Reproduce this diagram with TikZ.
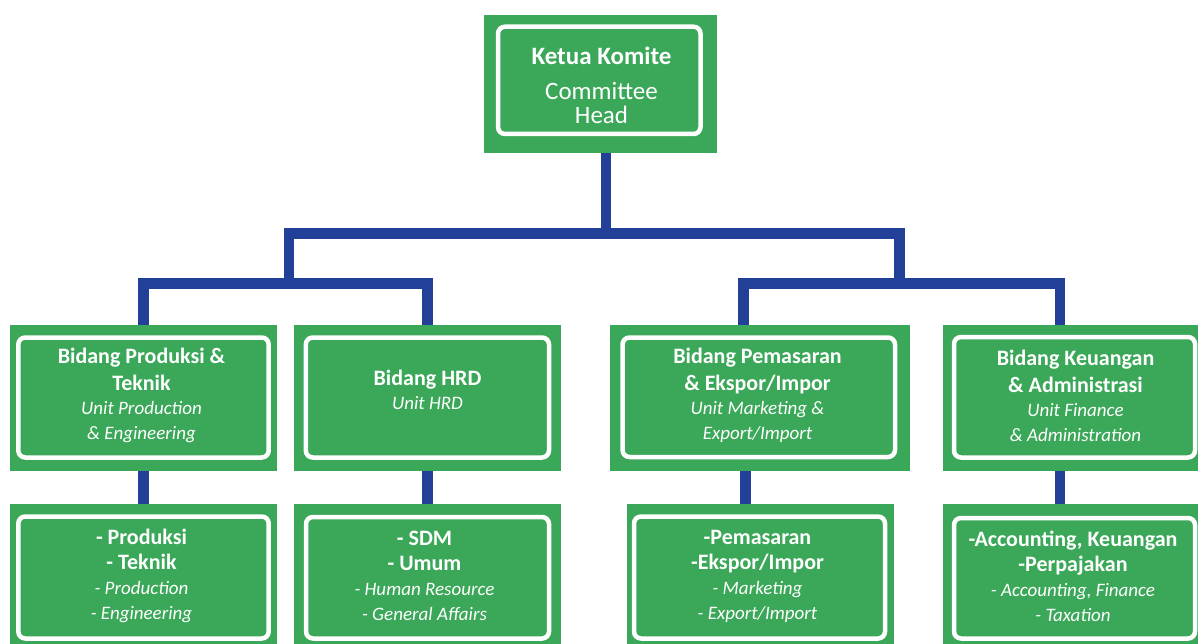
\documentclass[tikz,border=0pt]{standalone}
\usepackage{fontspec}
\setmainfont{Carlito}
\usepackage{tikz}
\definecolor{kgreen}{RGB}{58,168,88}
\definecolor{kblue}{RGB}{34,64,152}
\newcommand{\en}[1]{{\fontsize{19}{25}\selectfont\itshape #1}}

\tikzset{
  unitbox/.style={fill=kgreen, draw=none, inner sep=0pt, outer sep=0pt},
  frame/.style n args={4}{path picture={\draw[white,line width=4.5pt,rounded corners=7pt]
      ([xshift=#1pt,yshift=-#2pt]path picture bounding box.north west) rectangle
      ([xshift=-#3pt,yshift=#4pt]path picture bounding box.south east);}},
  link/.style={kblue, line width=10.4pt},
  headtxt/.style={white, align=center, font=\fontsize{25}{24}\selectfont},
  unittxt/.style={white, align=center, font=\fontsize{22}{27}\selectfont},
}

\begin{document}
\begin{tikzpicture}[x=1pt,y=-1pt]
\useasboundingbox (0,0) rectangle (1198,644);
% boxes
\node[unitbox, frame={14}{11.7}{16.5}{19}, minimum width=233pt, minimum height=138pt] (head) at (600.5,84) {};
\node[unitbox, frame={8.3}{12.5}{8.3}{13}, minimum width=267pt, minimum height=145.5pt] (prod) at (143.5,397.75) {};
\node[unitbox, frame={11.8}{12.5}{12}{13}, minimum width=267pt, minimum height=145.5pt] (hrd) at (427.5,397.75) {};
\node[unitbox, frame={12.5}{12.5}{15}{13.5}, minimum width=300pt, minimum height=145.5pt] (mark) at (760,397.75) {};
\node[unitbox, frame={11}{12}{8}{13}, minimum width=260pt, minimum height=145.5pt] (fin) at (1073,397.75) {};
\node[unitbox, frame={8.3}{12.5}{8.3}{12.5}, minimum width=267pt, minimum height=147pt] (prodsub) at (143.5,577.5) {};
\node[unitbox, frame={12}{13}{12}{12.5}, minimum width=267pt, minimum height=147pt] (hrdsub) at (427.5,577.5) {};
\node[unitbox, frame={7}{12.5}{9}{12.5}, minimum width=267pt, minimum height=147pt] (marksub) at (760.5,577.5) {};
\node[unitbox, frame={11}{14}{8}{12.5}, minimum width=260pt, minimum height=147pt] (finsub) at (1073,577.5) {};

% texts
\node[headtxt] (headlbl) at (601.5,85) {\textbf{Ketua Komite}\\[11pt] Committee\\ Head};
\node[unittxt] (prodlbl) at (141.5,395.5) {\textbf{Bidang Produksi \&}\\ \textbf{Teknik}\\[-3pt] \en{Unit Production}\\[-2pt] \en{\& Engineering}};
\node[unittxt] (hrdlbl) at (427.5,390) {\textbf{Bidang HRD}\\[-3pt] \en{Unit HRD}};
\node[unittxt] (marklbl) at (757.5,395.5) {\textbf{Bidang Pemasaran}\\ \textbf{\& Ekspor/Impor}\\[-3pt] \en{Unit Marketing \&}\\[-2pt] \en{Export/Import}};
\node[unittxt] (finlbl) at (1075.5,395.5) {\textbf{Bidang Keuangan}\\ \textbf{\& Administrasi}\\[-3pt] \en{Unit Finance}\\[-2pt] \en{\& Administration}};
\node[unittxt] (prodsublbl) at (141.5,576) {\textbf{- Produksi}\\[-2pt] \textbf{- Teknik}\\[-2pt] \en{- Production}\\[-2pt] \en{- Engineering}};
\node[unittxt] (hrdsublbl) at (424.5,576) {\textbf{- SDM}\\[-2pt] \textbf{- Umum}\\[-2pt] \en{- Human Resource}\\[-2pt] \en{- General Affairs}};
\node[unittxt] (marksublbl) at (757.5,576) {\textbf{-Pemasaran}\\[-2pt] \textbf{-Ekspor/Impor}\\[-2pt] \en{- Marketing}\\[-2pt] \en{- Export/Import}};
\node[unittxt] (finsublbl) at (1073,576) {\textbf{-Accounting, Keuangan}\\[-2pt] \textbf{-Perpajakan}\\[-2pt] \en{- Accounting, Finance}\\[-2pt] \en{- Taxation}};

% connectors
\coordinate (hub) at (606,233.5);
\coordinate (lhub) at (288.7,283.3);
\coordinate (rhub) at (899.3,283.3);
\coordinate (mkx) at (743.5,0);
\coordinate (mky) at (745.3,0);
\coordinate (fnx) at (1060.2,0);
\draw[link] (head.south -| hub) -- (hub);
\draw[link] (lhub) |- (hub) -| (rhub);
\draw[link] (prod.north) |- (lhub) -| (hrd.north);
\draw[link] (mark.north -| mkx) |- (rhub) -| (fin.north -| fnx);
\draw[link] (prod.south) -- (prodsub.north);
\draw[link] (hrd.south) -- (hrdsub.north);
\draw[link] (mark.south -| mky) -- (marksub.north -| mky);
\draw[link] (fin.south -| fnx) -- (finsub.north -| fnx);
\end{tikzpicture}
\end{document}
